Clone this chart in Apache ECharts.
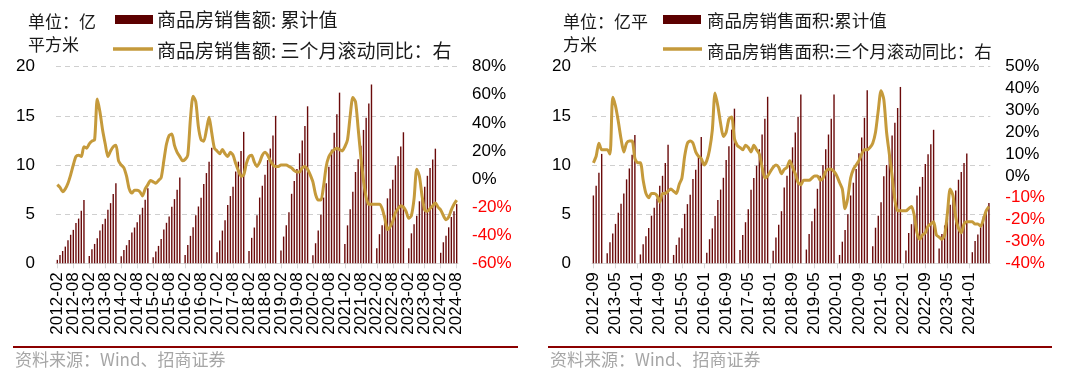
<!DOCTYPE html>
<html><head><meta charset="utf-8">
<script src="https://cdn.jsdelivr.net/npm/echarts@6/dist/echarts.min.js"></script>
<style>html,body{margin:0;padding:0;background:#fff}#c{width:1067px;height:377px}</style>
</head><body><div id="c"></div><script>
function monthRange(y0,m0,y1,m1){const out=[];let y=y0,m=m0;while(y<y1||(y===y1&&m<=m1)){out.push(y+'-'+String(m).padStart(2,'0'));m++;if(m>12){m=1;y++;}}return out;}
const monthsAmount = monthRange(2012,2,2024,8);   // 151 months
const monthsArea = monthRange(2012,9,2024,8);     // 144 months
const N = null;
// 商品房销售额:累计值 (left axis)
const salesAmount = [
 0.35,0.85,1.25,1.7,2.35,2.9,3.4,4.1,4.55,5.35,6.45,
 N,0.75,1.43,1.97,2.55,3.33,3.98,4.52,5.44,6.12,7.04,8.14,
 N,0.71,1.36,1.84,2.38,3.13,3.64,4.18,4.93,5.65,6.46,7.63,
 N,0.61,1.19,1.77,2.48,3.44,4.12,4.76,5.75,6.53,7.48,8.73,
 N,0.85,1.87,2.79,3.67,4.9,5.78,6.67,8.06,9.18,10.34,11.76,
 N,1.12,2.31,3.33,4.39,5.92,6.84,7.79,9.35,10.34,11.43,13.37,
 N,1.26,2.59,3.64,4.9,6.69,7.89,9.01,10.5,11.67,12.99,15.0,
 N,1.29,2.72,3.88,5.2,7.07,8.37,9.59,11.19,12.48,13.98,15.97,
 N,0.82,2.04,3.33,4.95,6.69,8.14,9.81,11.56,13.29,15.17,17.36,
 N,1.96,3.86,5.51,7.29,9.29,10.59,11.97,13.57,14.8,16.26,18.19,
 N,1.53,2.96,3.87,4.86,6.61,7.58,8.51,9.98,10.89,11.89,13.33,
 N,1.54,3.05,3.97,4.84,6.31,7.0,7.8,8.9,9.7,10.56,11.66,
 N,1.07,2.14,2.81,3.66,4.71,5.3,6.02
];
// 商品房销售额:三个月滚动同比 (%, right axis)
const salesAmountYoY = [
 -4,-6,-9,-7,-3,3,10,16,17,16,23,
 22,25,27,28,57,48,35,25,16,20,23,24,
 13,10,8,2,-7,-10,-8,-8,-9,-12,-7,-4,
 -1,-2,-3,-1,1,13,25,31,32,24,19,16,
 13,14,17,43,59,55,37,28,27,35,44,33,
 22,20,18,21,18,16,19,17,11,6,2,3,
 11,16,17,12,9,12,17,19,17,13,10,9,
 9,10,10,10,9,8,6,5,5,8,9,7,
 3,-2,-11,-15,-15,-5,9,16,19,21,22,21,
 20,23,28,45,58,55,36,16,-1,-13,-18,-18,
 -18,-18,-18,-21,-28,-36,-34,-30,-24,-21,-19,-20,
 -23,-28,-26,-14,7,2,-12,-22,-23,-21,-19,-17,
 -20,-22,-26,-29,-27,-22,-18,-15
];
// 商品房销售面积:累计值 (left axis)
const salesArea = [
 6.9,7.9,9.2,11.13,
 N,1.01,2.14,3.03,4.01,5.15,6.06,7.09,8.54,9.65,11.05,13.06,
 N,0.9,1.95,2.75,3.6,4.84,5.65,6.6,7.9,8.9,10.2,12.06,
 N,0.85,1.87,2.62,3.57,5.03,6.02,6.97,8.57,9.52,10.88,12.85,
 N,1.07,2.45,3.55,4.8,6.43,7.5,8.7,10.5,11.9,13.6,15.73,
 N,1.36,2.89,4.18,5.5,7.47,8.67,9.93,11.6,13.1,14.7,16.94,
 N,1.27,2.62,3.93,5.3,7.7,8.9,10.0,11.8,13.3,14.9,17.17,
 N,1.4,2.98,4.29,5.56,7.58,8.9,10.0,11.6,13.1,14.7,17.16,
 N,0.85,2.2,3.4,5.0,6.9,8.2,9.6,11.2,12.8,14.8,17.61,
 N,1.73,3.62,4.84,6.2,8.86,10.0,11.2,13.0,14.3,15.8,17.94,
 N,1.3,3.07,3.98,5.0,6.89,7.8,8.78,10.1,11.1,12.1,13.58,
 N,1.51,2.99,3.86,4.6,5.95,6.6,7.4,8.5,9.3,10.2,11.17,
 N,1.13,2.27,2.93,3.66,4.79,5.4,6.14
];
// 商品房销售面积:三个月滚动同比 (%, right axis)
const salesAreaYoY = [
 6,9,15,12,
 12,12,10,36,32,25,17,11,15,16,16,8,
 6,6,-2,-8,-10,-8,-8,-9,-12,-8,-8,-7,
 -6,-7,-8,-4,-1,9,15,16,15,11,9,8,
 5,7,12,21,38,32,24,18,20,26,27,17,
 14,13,12,14,13,11,14,12,10,4,-1,0,
 2,4,5,4,1,3,4,7,4,1,-3,-4,
 -2,-2,-2,-1,0,0,-2,-1,2,3,3,2,
 0,-3,-6,-15,-10,-1,3,5,7,10,12,12,
 13,15,20,30,39,35,20,10,0,-11,-16,-16,
 -16,-16,-15,-14,-18,-26,-29,-27,-26,-23,-22,-21,
 -27,-28,-29,-27,-17,-6,-9,-19,-24,-26,-22,-21,
 -21,-21,-22,-22,-23,-20,-16,-14
];
const leftTicks = {min:0, max:20, interval:5};
const rightTicksAmount = {min:-60, max:80, interval:20};
const rightTicksArea = {min:-40, max:50, interval:10};

const BAR = '#6a0a0a', LINE = '#C59A3B';
const NUMFONT = '"Liberation Sans", Arial, sans-serif';
const CJK = '"Noto Sans CJK SC", sans-serif';

function labelStyle(intervalFn){
  return {interval:intervalFn, rotate:90, fontSize:17, color:'#000', fontFamily:NUMFONT, margin:9};
}
function xAxis(grid, data, tickEvery, labelFn, showLine){
  return {type:'category', gridIndex:grid, data:data, boundaryGap:true, position:'bottom', offset:0,
    axisLine:{show:showLine, lineStyle:{color:'#d9d9d9', width:1}},
    axisTick:{show:showLine, interval:tickEvery-1, alignWithLabel:true, length:5, lineStyle:{color:'#d9d9d9'}},
    axisLabel:labelStyle(labelFn)};
}
function yLeft(grid){
  return {type:'value', gridIndex:grid, position:'left', min:leftTicks.min, max:leftTicks.max, interval:leftTicks.interval,
    axisLine:{show:false}, axisTick:{show:false},
    axisLabel:{fontSize:17, color:'#000', fontFamily:NUMFONT, margin:21},
    splitLine:{lineStyle:{type:[5,4], color:'#cfcfcf', width:1}}};
}
function yRight(grid, t, margin){
  return {type:'value', gridIndex:grid, position:'right', min:t.min, max:t.max, interval:t.interval,
    axisLine:{show:false}, axisTick:{show:false}, splitLine:{show:false},
    axisLabel:{fontSize:17, fontFamily:NUMFONT, margin:margin, formatter:'{value}%',
      color:function(v){return Number(v)<0?'#ff0000':'#000';}}};
}
function txt(x,y,s,size,color,font){
  return {type:'text', x:x, y:y, style:{text:s, fontSize:size, fill:color||'#1a1a1a', fontFamily:font||CJK, textVerticalAlign:'middle'}};
}
const chart = echarts.init(document.getElementById('c'), null, {renderer:'canvas'});
chart.setOption({
  animation:false,
  grid:[
    {left:56, top:66.7, width:402, height:196.6, outerBoundsMode:'none', containLabel:false},
    {left:592, top:66.7, width:398.3, height:196.6, outerBoundsMode:'none', containLabel:false}
  ],
  xAxis:[
    // left panel: labels every 12 months on the main axis (Feb), the in-between ones (Aug) on a label-only twin axis
    xAxis(0, monthsAmount, 6, function(i){return i % 12 === 0;}, true),
    xAxis(1, monthsArea, 8, function(i){return i % 8 === 0;}, true),
    xAxis(0, monthsAmount, 6, function(i){return i % 12 === 6;}, false)
  ],
  yAxis:[yLeft(0), yRight(0, rightTicksAmount, 14), yLeft(1), yRight(1, rightTicksArea, 15)],
  series:[
    {type:'bar', xAxisIndex:0, yAxisIndex:0, data:salesAmount, barWidth:1.4, itemStyle:{color:BAR}},
    {type:'line', xAxisIndex:0, yAxisIndex:1, data:salesAmountYoY, symbol:'none', smooth:0.25, lineStyle:{color:LINE, width:3}, z:5},
    {type:'bar', xAxisIndex:1, yAxisIndex:2, data:salesArea, barWidth:1.4, itemStyle:{color:BAR}},
    {type:'line', xAxisIndex:1, yAxisIndex:3, data:salesAreaYoY, symbol:'none', smooth:0.25, lineStyle:{color:LINE, width:3}, z:5}
  ],
  graphic:[
    txt(28,22,'单位：亿',17),
    txt(28,45,'平方米',17),
    {type:'rect', shape:{x:115,y:15,width:38,height:9}, style:{fill:'#5c0000'}},
    txt(157,20,'商品房销售额: 累计值',19),
    {type:'line', shape:{x1:113,y1:49,x2:153,y2:49}, style:{stroke:LINE, lineWidth:3.3}},
    txt(157,51,'商品房销售额: 三个月滚动同比：右',19),
    {type:'line', shape:{x1:13,y1:347,x2:518,y2:347}, style:{stroke:'#8b0000', lineWidth:2}},
    txt(15,360,'资料来源：Wind、招商证券',17,'#a6a6a6'),

    txt(563,22,'单位：亿平',17),
    txt(563,45,'方米',17),
    {type:'rect', shape:{x:663,y:15,width:38,height:9}, style:{fill:'#5c0000'}},
    txt(707,20,'商品房销售面积:累计值',17.5),
    {type:'line', shape:{x1:663,y1:49,x2:702,y2:49}, style:{stroke:LINE, lineWidth:3.3}},
    txt(707,51,'商品房销售面积:三个月滚动同比：右',17.5),
    {type:'line', shape:{x1:548,y1:347,x2:1052,y2:347}, style:{stroke:'#8b0000', lineWidth:2}},
    txt(550,360,'资料来源：Wind、招商证券',17,'#a6a6a6')
  ]
});
</script></body></html>
